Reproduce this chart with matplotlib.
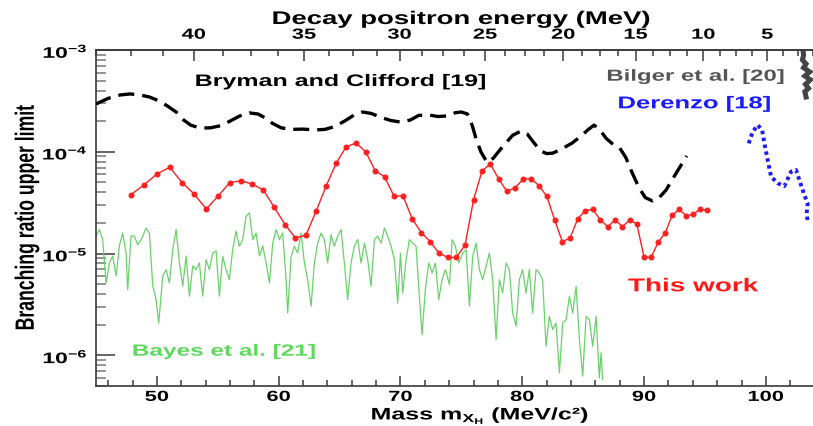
import numpy as np
import matplotlib
matplotlib.use("Agg")
import matplotlib.pyplot as plt
from matplotlib.patheffects import AbstractPathEffect
from matplotlib.transforms import Affine2D
from matplotlib.path import Path
from matplotlib.ticker import LogLocator, NullFormatter, MultipleLocator

plt.rcParams['font.family'] = ['Liberation Sans', 'DejaVu Sans']
plt.rcParams['font.weight'] = 'bold'
plt.rcParams['mathtext.fontset'] = 'custom'
plt.rcParams['mathtext.rm'] = 'Liberation Sans:bold'
plt.rcParams['mathtext.bf'] = 'Liberation Sans:bold'
plt.rcParams['mathtext.it'] = 'Liberation Sans:bold'

# ---------------- data ----------------
# This work: limits on a 0.5 MeV positron-energy grid (42 ... 10 MeV)
this_mass = [47.84, 48.93, 50.00, 51.05, 52.07, 53.07, 54.06, 55.03, 55.98, 56.92,
             57.84, 58.74, 59.64, 60.52, 61.38, 62.24, 63.08, 63.91, 64.73, 65.54,
             66.35, 67.14, 67.92, 68.69, 69.46, 70.21, 70.96, 71.70, 72.44, 73.16,
             73.88, 74.59, 75.30, 76.00, 76.69, 77.37, 78.05, 78.73, 79.40, 80.06,
             80.72, 81.37, 82.01, 82.66, 83.29, 83.92, 84.55, 85.17, 85.79, 86.41,
             87.01, 87.62, 88.22, 88.82, 89.41, 90.00, 90.58, 91.17, 91.74, 92.32,
             92.89, 93.46, 94.02, 94.58, 95.14]
this_br = [3.77e-5, 4.72e-5, 6.05e-5, 7.05e-5, 4.98e-5, 3.83e-5, 2.74e-5, 3.68e-5, 4.98e-5, 5.2e-5,
           4.8e-5, 4.22e-5, 2.84e-5, 1.93e-5, 1.42e-5, 1.52e-5, 2.62e-5, 4.65e-5, 7.76e-5, 1.12e-4,
           1.22e-4, 1.0e-4, 6.52e-5, 5.69e-5, 3.68e-5, 3.68e-5, 2.2e-5, 1.61e-5, 1.31e-5, 1.01e-5,
           9.16e-6, 9.16e-6, 1.21e-5, 3.37e-5, 6.47e-5, 7.59e-5, 5.44e-5, 4.09e-5, 4.41e-5, 5.37e-5,
           5.44e-5, 4.65e-5, 3.66e-5, 2.14e-5, 1.31e-5, 1.42e-5, 2.19e-5, 2.64e-5, 2.72e-5, 2.14e-5,
           1.84e-5, 2.14e-5, 1.84e-5, 2.14e-5, 1.94e-5, 9.2e-6, 9.2e-6, 1.3e-5, 1.6e-5, 2.39e-5,
           2.72e-5, 2.34e-5, 2.43e-5, 2.72e-5, 2.68e-5]

# Bryman and Clifford [19]
bryman_mass = [45.0, 46.0, 47.0, 47.8, 48.6, 49.4, 50.2, 50.9, 51.6, 52.2, 52.8, 53.6, 54.4,
               55.2, 56.0, 56.8, 57.6, 58.3, 58.9, 59.5, 60.2, 61.0, 62.0, 63.0, 63.8, 64.6,
               65.4, 66.2, 66.9, 67.6, 68.4, 69.2, 70.0, 70.8, 71.5, 72.3, 73.1, 73.8, 74.5,
               75.0, 75.5, 75.9, 76.2, 76.6, 77.1, 77.6, 78.1, 78.6, 79.2, 79.9, 80.4, 80.9,
               81.5, 82.0, 82.5, 83.2, 84.1, 84.9, 85.4, 85.9, 86.4, 86.9, 87.5, 88.0, 88.5,
               89.0, 89.6, 90.1, 90.7, 91.2, 91.8, 92.5, 93.1, 93.5]
bryman_br = [2.95e-4, 3.35e-4, 3.62e-4, 3.70e-4, 3.62e-4, 3.45e-4, 3.15e-4, 2.80e-4, 2.45e-4,
             2.05e-4, 1.82e-4, 1.71e-4, 1.72e-4, 1.80e-4, 2.00e-4, 2.25e-4, 2.41e-4, 2.35e-4,
             2.15e-4, 1.90e-4, 1.72e-4, 1.66e-4, 1.67e-4, 1.64e-4, 1.66e-4, 1.77e-4, 2.00e-4,
             2.30e-4, 2.46e-4, 2.38e-4, 2.18e-4, 2.03e-4, 1.96e-4, 2.05e-4, 2.28e-4, 2.30e-4,
             2.22e-4, 2.25e-4, 2.42e-4, 2.46e-4, 2.35e-4, 1.80e-4, 1.35e-4, 1.00e-4, 7.9e-5,
             8.6e-5, 1.02e-4, 1.20e-4, 1.45e-4, 1.60e-4, 1.50e-4, 1.25e-4, 1.02e-4, 9.6e-5,
             9.7e-5, 1.06e-4, 1.22e-4, 1.45e-4, 1.65e-4, 1.83e-4, 1.62e-4, 1.35e-4, 1.17e-4,
             1.09e-4, 8.8e-5, 6.3e-5, 4.4e-5, 3.55e-5, 3.29e-5, 3.5e-5, 4.2e-5, 5.8e-5,
             7.6e-5, 9.1e-5]

# Bayes et al. [21]
bayes_mass = [45.0, 45.28, 45.55, 45.83, 46.10, 46.37, 46.65, 46.92, 47.19, 47.47, 47.60, 47.88,
              48.15, 48.42, 48.70, 49.11, 49.38, 49.66, 49.93, 50.15, 50.48, 50.75, 51.03, 51.30,
              51.58, 51.85, 52.12, 52.40, 52.67, 52.94, 53.22, 53.49, 53.76, 54.04, 54.31, 54.58,
              54.86, 55.13, 55.40, 55.68, 55.95, 56.22, 56.50, 56.77, 57.04, 57.32, 57.59, 57.87,
              58.14, 58.42, 58.69, 58.97, 59.24, 59.51, 59.79, 60.06, 60.33, 60.61, 60.74, 61.02,
              61.29, 61.56, 61.84, 62.11, 62.38, 62.66, 62.93, 63.20, 63.48, 63.75, 64.02, 64.30,
              64.57, 64.84, 65.12, 65.39, 65.66, 65.94, 66.21, 66.49, 66.76, 67.04, 67.31, 67.58,
              67.86, 68.13, 68.41, 68.68, 68.95, 69.23, 69.50, 69.77, 70.00, 70.18, 70.46, 70.73,
              71.00, 71.28, 71.55, 71.77, 72.04, 72.32, 72.59, 72.87, 73.14, 73.41, 73.69, 74.02,
              74.24, 74.51, 74.78, 75.11, 75.39, 75.66, 75.93, 76.21, 76.48, 76.75, 77.03, 77.30,
              77.57, 77.85, 78.12, 78.39, 78.67, 78.94, 79.21, 79.49, 79.76, 80.03, 80.31, 80.58,
              80.85, 81.13, 81.40, 81.67, 81.95, 82.22, 82.50, 82.77, 83.05, 83.32, 83.60, 83.87,
              84.14, 84.42, 84.69, 84.96, 85.24, 85.51, 85.78, 86.06, 86.33, 86.47, 86.60]
bayes_br = [1.48e-5, 1.72e-5, 1.37e-5, 5.14e-6, 8.09e-6, 9.47e-6, 6.03e-6, 1.19e-5, 1.59e-5, 1.01e-5,
            4.42e-6, 1.49e-5, 1.49e-5, 1.22e-5, 1.36e-5, 1.78e-5, 1.59e-5, 4.81e-6, 3.53e-6, 2.08e-6,
            6.03e-6, 6.95e-6, 5.14e-6, 1.09e-5, 1.72e-5, 8.09e-6, 4.81e-6, 9.47e-6, 3.81e-6, 7.55e-6,
            6.95e-6, 8.09e-6, 3.81e-6, 8.71e-6, 6.95e-6, 1.01e-5, 1.06e-5, 3.81e-6, 9.40e-6, 6.95e-6,
            5.54e-6, 1.09e-5, 1.66e-5, 1.18e-5, 1.37e-5, 2.32e-5, 2.51e-5, 1.37e-5, 1.59e-5, 9.47e-6,
            1.19e-5, 8.09e-6, 5.14e-6, 1.27e-5, 1.72e-5, 1.37e-5, 1.59e-5, 5.54e-6, 2.61e-6, 9.40e-6,
            1.18e-5, 1.01e-5, 1.59e-5, 8.09e-6, 5.54e-6, 3.04e-6, 8.09e-6, 1.27e-5, 1.59e-5, 1.37e-5,
            8.09e-6, 1.53e-5, 1.18e-5, 1.48e-5, 1.72e-5, 8.09e-6, 3.53e-6, 8.09e-6, 1.18e-5, 1.37e-5,
            8.09e-6, 1.27e-5, 8.71e-6, 4.77e-6, 1.37e-5, 1.48e-5, 1.27e-5, 1.78e-5, 1.48e-5, 1.18e-5,
            8.71e-6, 3.27e-6, 1.01e-5, 4.10e-6, 8.71e-6, 1.37e-5, 1.27e-5, 1.18e-5, 3.81e-6, 1.60e-6,
            4.42e-6, 8.09e-6, 6.45e-6, 8.09e-6, 3.53e-6, 5.54e-6, 6.95e-6, 4.95e-6, 1.37e-5, 1.18e-5,
            8.09e-6, 1.01e-5, 1.09e-5, 3.04e-6, 9.40e-6, 1.27e-5, 6.95e-6, 5.54e-6, 7.50e-6, 1.01e-5,
            5.54e-6, 1.43e-6, 5.54e-6, 4.10e-6, 8.09e-6, 6.95e-6, 2.61e-6, 1.93e-6, 5.54e-6, 6.95e-6,
            4.10e-6, 6.95e-6, 2.61e-6, 6.95e-6, 6.45e-6, 5.54e-6, 1.23e-6, 2.42e-6, 1.79e-6, 2.08e-6,
            6.72e-7, 2.08e-6, 2.24e-6, 3.81e-6, 2.61e-6, 4.77e-6, 1.43e-6, 6.24e-7, 2.42e-6, 2.24e-6,
            1.23e-6, 2.42e-6, 6.00e-7, 1.06e-6, 5.77e-7]

# Derenzo [18]
derenzo_mass = [98.59, 98.92, 99.33, 99.69, 99.88, 100.15, 100.43, 100.97, 101.52, 102.07,
                102.48, 102.75, 103.16, 103.43, 103.35, 103.43]
derenzo_br = [1.21e-4, 1.57e-4, 1.83e-4, 1.64e-4, 1.21e-4, 8.3e-5, 5.69e-5, 4.91e-5, 4.61e-5,
              6.38e-5, 6.62e-5, 5.28e-5, 3.77e-5, 3.12e-5, 2.49e-5, 2.06e-5]

# Bilger et al. [20]
bilger_mass = [103.05, 103.10, 103.00, 103.30, 103.10, 103.60, 103.20, 103.65, 103.25, 103.50,
               103.20, 103.30]
bilger_br = [9.8e-4, 8.9e-4, 8.0e-4, 7.3e-4, 6.7e-4, 6.1e-4, 5.55e-4, 5.1e-4, 4.6e-4, 4.2e-4,
             3.9e-4, 3.45e-4]

# axis ticks
mass_ticks = [50, 60, 70, 80, 90, 100]
energy_major = [40, 35, 30, 25, 20, 15, 10, 5]

M_MU, M_E = 105.658, 0.511


def energy_to_mass(e):
    e = np.asarray(e, dtype=float)
    return np.sqrt(M_MU ** 2 + M_E ** 2 - 2.0 * M_MU * e)


class WideText(AbstractPathEffect):
    """Draw glyph outlines widened horizontally around an anchor."""

    def __init__(self, sx=1.5, anchor='center'):
        super().__init__()
        self.sx = sx
        self.anchor = anchor

    def draw_path(self, renderer, gc, tpath, affine, rgbFace=None):
        verts = tpath.vertices
        if tpath.codes is not None:
            keep = (tpath.codes != Path.CLOSEPOLY) & (tpath.codes != Path.STOP)
            verts = verts[keep]
        if len(verts) == 0:
            return
        disp = affine.transform(verts)
        x0, x1 = disp[:, 0].min(), disp[:, 0].max()
        ref = {'center': 0.5 * (x0 + x1), 'left': x0, 'right': x1}[self.anchor]
        widen = Affine2D().translate(-ref, 0).scale(self.sx, 1.0).translate(ref, 0)
        renderer.draw_path(gc, tpath, affine + widen, rgbFace)


WIDE = 1.5
W, H = 813, 426

fig = plt.figure(figsize=(W / 100, H / 100), dpi=100)
fig.patch.set_facecolor('white')
ax = fig.add_axes([96 / W, 40 / H, 717 / W, 336 / H])
ax.set_yscale('log')
ax.set_xlim(45, 103.87)
ax.set_ylim(5e-7, 1e-3)

ax.plot(bayes_mass, bayes_br, color='#6ad26a', lw=0.9, zorder=2)
ax.plot(this_mass, this_br, color='#ff2020', lw=1.0, marker='o', ms=3.3,
        mec='#ff2020', mfc='#ff2020', zorder=4)
ax.plot(bryman_mass, bryman_br, color='black', lw=2.4, ls=(0, (4.8, 2.4)), zorder=3)
ax.plot(derenzo_mass, derenzo_br, color='#1a1aff', lw=2.8, ls=(0, (0.9, 0.9)), zorder=3)
ax.plot(bilger_mass, bilger_br, color='#444444', lw=3.6, solid_joinstyle='miter', zorder=3)

frame = '#3a3a3a'
for s in ('left', 'bottom', 'top'):
    ax.spines[s].set_color(frame)
    ax.spines[s].set_linewidth(1.2)
ax.spines['right'].set_visible(False)

ax.set_xticks(mass_ticks, labels=[str(v) for v in mass_ticks])
ax.xaxis.set_minor_locator(MultipleLocator(2))
ax.tick_params(axis='x', which='major', direction='in', length=7.5, width=1.1,
               color=frame, pad=2.8, labelsize=10.5, labelcolor='black')
ax.tick_params(axis='x', which='minor', direction='in', length=4.3, width=1.1, color=frame)

ax.set_yticks([1e-6, 1e-5, 1e-4, 1e-3],
              labels=[r'$\mathbf{10^{-6}}$', r'$\mathbf{10^{-5}}$',
                      r'$\mathbf{10^{-4}}$', r'$\mathbf{10^{-3}}$'])
ax.yaxis.set_minor_locator(LogLocator(base=10, subs=np.arange(2, 10) * 1.0, numticks=30))
ax.yaxis.set_minor_formatter(NullFormatter())
ax.tick_params(axis='y', which='major', direction='in', length=14, width=1.1,
               color=frame, pad=6, labelsize=11, labelcolor='black')
ax.tick_params(axis='y', which='minor', direction='in', length=7, width=1.1, color='#777777')

# top axis in positron energy
top = ax.twiny()
top.set_xlim(ax.get_xlim())
minor_e = [e for e in np.arange(1.25, 44.0, 1.25) if abs(e / 5 - round(e / 5)) > 1e-6]
top.set_xticks(energy_to_mass(energy_major), labels=[str(e) for e in energy_major])
top.set_xticks(energy_to_mass(minor_e), minor=True)
top.tick_params(which='major', direction='in', length=8, width=1.1, color=frame,
                pad=6, labelsize=10.5, labelcolor='black')
top.tick_params(which='minor', direction='in', length=4, width=1.1, color=frame)
for s in ('left', 'right', 'bottom'):
    top.spines[s].set_visible(False)
top.spines['top'].set_color(frame)
top.spines['top'].set_linewidth(1.2)


def put(x_px, y_px, s, size, color, rotation=0, va='baseline'):
    t = fig.text(x_px / W, 1 - y_px / H, s, fontsize=size, color=color,
                 fontweight='bold', ha='center', va=va, rotation=rotation)
    t.set_path_effects([WideText(WIDE, 'center')])
    return t


put(461.5, 24, 'Decay positron energy (MeV)', 13.2, 'black')
put(480, 419.5, r'Mass m$_{\mathbf{X_{H}}}$ (MeV/c²)', 12, 'black')
put(27, 217.5, 'Branching ratio upper limit', 12.7, 'black', rotation=90, va='center')
put(340, 86, 'Bryman and Clifford [19]', 12, 'black')
put(696, 80.7, 'Bilger et al. [20]', 11.5, '#555555')
put(694.5, 108.3, 'Derenzo [18]', 12.3, '#1a1aff')
put(693, 291.3, 'This work', 13.4, '#ff1a1a')
put(224, 355.7, 'Bayes et al. [21]', 11.7, '#5ed85e')

fig.canvas.draw()
for lbl in ax.get_xticklabels() + top.get_xticklabels():
    lbl.set_path_effects([WideText(WIDE, 'center')])
for lbl in ax.get_yticklabels():
    lbl.set_path_effects([WideText(WIDE, 'right')])

fig.savefig('out.png', dpi=100, facecolor='white')
